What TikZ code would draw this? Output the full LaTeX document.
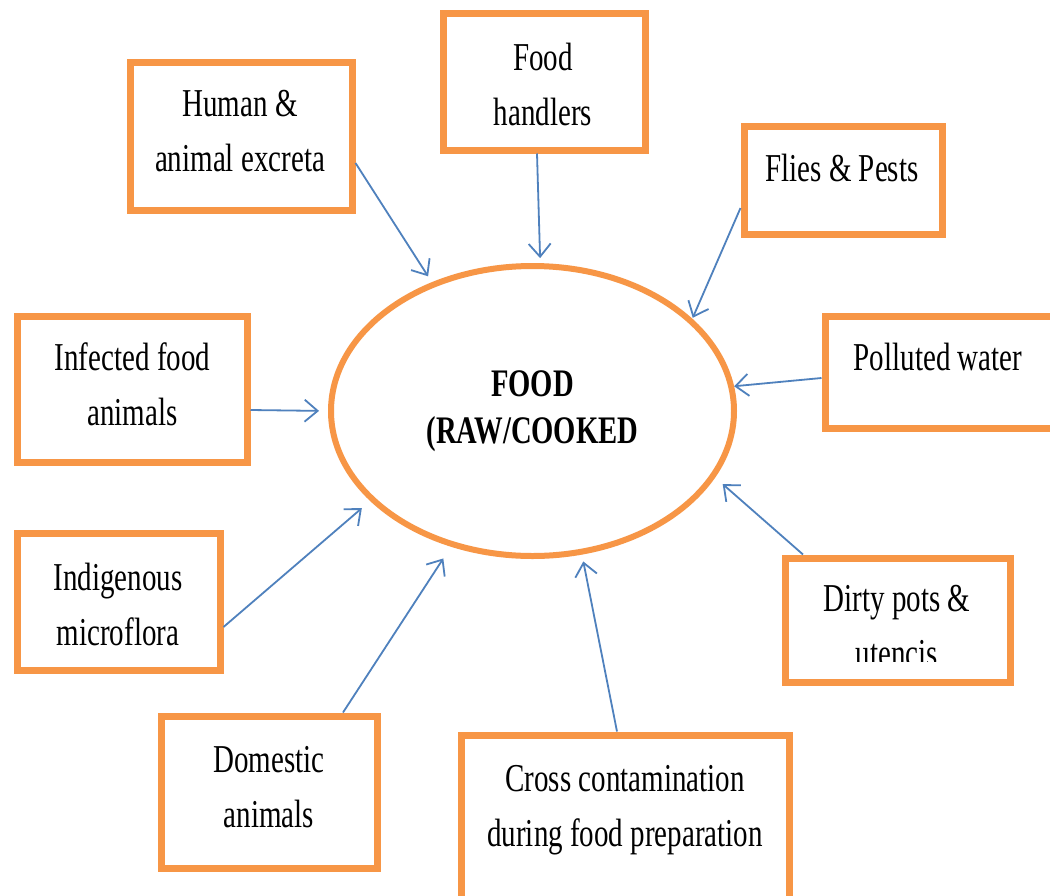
\documentclass[tikz,border=0pt]{standalone}
\usepackage{fontspec}
\setmainfont[FakeStretch=0.734]{Liberation Serif}
\usetikzlibrary{arrows.meta,shapes.geometric}
\definecolor{boxorange}{HTML}{F79646}
\definecolor{arrowblue}{HTML}{4F81BD}
\begin{document}
\begin{tikzpicture}[x=1pt,y=-1pt,
  box/.style={draw=boxorange,line width=7pt,rectangle,inner sep=0pt},
  txt/.style={align=center,font=\fontsize{39.5}{55}\selectfont,inner sep=0pt},
  arr/.style={draw=arrowblue,line width=1.8pt,-{Straight Barb[length=13pt,width=22pt]}}]
\useasboundingbox (0,0) rectangle (1050,895);
\fill[white] (0,0) rectangle (1050,895);

% central ellipse
\node[ellipse,draw=boxorange,line width=6pt,minimum width=403pt,minimum height=290pt,
      align=center,inner sep=0pt,font=\fontsize{39}{47}\selectfont\bfseries] (food) at (532.5,411) {FOOD\\(RAW/COOKED};

% boxes
\node[box,minimum width=222pt,minimum height=148pt] (hae) at (241,136) {};
\node[box,minimum width=202pt,minimum height=137pt] (fh)  at (544,81.5) {};
\node[box,minimum width=198pt,minimum height=108pt] (fp)  at (843,180) {};
\node[box,minimum width=228pt,minimum height=112pt] (pw)  at (939,372) {};
\node[box,minimum width=230pt,minimum height=146pt] (ifa) at (132,389) {};
\node[box,minimum width=203pt,minimum height=137pt] (im)  at (118.5,601.5) {};
\node[box,minimum width=225pt,minimum height=124pt] (dp)  at (897.5,620) {};
\node[box,minimum width=216pt,minimum height=152pt] (da)  at (269,792) {};
\node[box,minimum width=328pt,minimum height=170pt] (cc)  at (625,820) {};

% texts
\node[txt] (haet) at (240,131) {Human \&\\animal excreta};
\node[txt] (fht)  at (543,84) {Food\\handlers};
\node[txt] (fpt)  at (842,167.5) {Flies \& Pests};
\node[txt] (pwt)  at (938,356.5) {Polluted water};
\node[txt] (ifat) at (132.5,384) {Infected food\\animals};
\node[txt] (imt)  at (118,604) {Indigenous\\microflora};
\begin{scope}
  \clip (785,558) rectangle (1010,661);
  \node[txt] (dpt) at (897,626) {Dirty pots \&\\utencis};
\end{scope}
\node[txt] (dat)  at (269,787) {Domestic\\animals};
\node[txt] (cct)  at (625,810) {Cross contamination\\during food preparation};

% connectors
\draw[arr,shorten >=7pt]  (hae.east |- 0,163) -- (food.128);
\draw[arr,shorten >=5pt]  (fh.south -| 537,0) -- (food.87);
\draw[arr,shorten >=1pt]  (fp.west |- 0,208) -- (food.30);
\draw[arr]                (pw.west |- 0,378) -- (food.7);
\draw[arr,shorten >=9pt]  (ifa.east |- 0,410) -- (food.180);
\draw[arr,shorten >=11pt] (im.east |- 0,627) -- (food.209);
\draw[arr,shorten >=10pt] (dp.north -| 803,0) -- (food.-20);
\draw[arr,shorten >=14pt] (da.north -| 343,0) -- (food.239);
\draw[arr,shorten >=7pt]  (cc.north -| 617,0) -- (food.289);
\end{tikzpicture}
\end{document}
